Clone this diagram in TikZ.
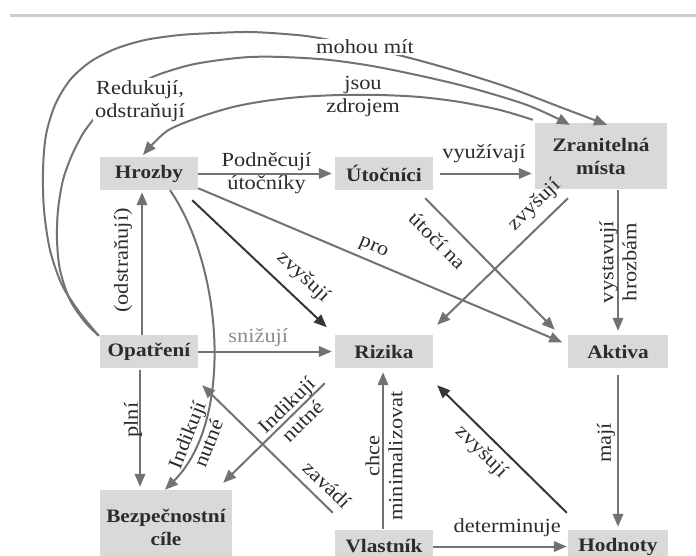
\documentclass[tikz,border=0pt]{standalone}
\usepackage{fontspec}
\setmainfont{Liberation Serif}[FakeStretch=1.12]
\usetikzlibrary{arrows.meta,calc}

\definecolor{boxfill}{HTML}{D9D9D9}
\definecolor{wire}{HTML}{727272}
\definecolor{wiredark}{HTML}{363636}
\definecolor{ink}{HTML}{2C2C2C}
\definecolor{softink}{HTML}{8C8C8C}
\definecolor{rulegray}{HTML}{CCCCCC}

\tikzset{
  box/.style={fill=boxfill, text=ink, font=\bfseries\fontsize{19}{23}\selectfont,
    align=center, minimum height=33pt, inner sep=0pt},
  link/.style={draw=wire, line width=2pt, -{Triangle[length=13pt,width=10.5pt]}},
  linkdark/.style={link, draw=wiredark},
  lbl/.style={text=ink, font=\fontsize{20}{23}\selectfont, inner sep=2pt, align=center},
  toprule/.style={draw=rulegray, line width=3pt}
}

\begin{document}
\begin{tikzpicture}[x=1pt,y=1pt]
\useasboundingbox (0,0) rectangle (696,-555);
\clip (0,0) rectangle (696,-555);

% header rule
\draw[toprule] (10,-15) -- (696,-15);

% concepts
\node[box, minimum width=98pt] (hroz) at (149,-173.5) {Hrozby};
\node[box, minimum width=98pt] (utoc) at (384,-173.5) {Útočníci};
\node[box, minimum width=132pt, minimum height=66pt] (zran) at (601,-156) {Zranitelná\\místa};
\node[box, minimum width=98pt] (opat) at (149,-351.5) {Opatření};
\node[box, minimum width=98pt] (riz) at (384,-351.5) {Rizika};
\node[box, minimum width=100pt] (akt) at (618,-351.5) {Aktiva};
\node[box, minimum width=132pt, minimum height=74pt] (bez) at (166,-527) {Bezpečnostní\\cíle};
\node[box, minimum width=98pt] (vlast) at (384,-546.5) {Vlastník};
\node[box, minimum width=100pt] (hodn) at (618,-546.5) {Hodnoty};

% helper end points
\coordinate (odstA) at ([xshift=-7pt]opat.north);
\coordinate (odstB) at ([xshift=-7pt]hroz.south);
\coordinate (plniA) at ([xshift=-9pt]opat.south);
\coordinate (plniB) at (plniA |- bez.north);
\coordinate (vystA) at (zran.south -| akt.north);
\coordinate (chceA) at ([xshift=-1pt]vlast.north);
\coordinate (chceB) at ([xshift=-1pt]riz.south);

% long arcs over the top
\draw[link] plot[smooth, tension=.5] coordinates {([shift={(-1pt,-1pt)}]opat.north west) (80,-313) (62,-285) (50,-250) (44,-210) (43,-170) (46,-135) (55,-105) (70,-80) (90,-62) (115,-49) (145,-40) (180,-35) (215,-33) (250,-32) (285,-34) (313,-37) (360,-46) (410,-58) (460,-72) (510,-88) (560,-107) ([shift={(6pt,-2pt)}]zran.north)};
\node[lbl, fill=white, inner ysep=1pt] (l-mohou) at (365,-47) {mohou mít};

\draw[link] plot[smooth, tension=.5] coordinates {([shift={(-1pt,-1pt)}]opat.north west) (85,-322) (70,-300) (60,-270) (57,-240) (58,-210) (63,-180) (72,-155) (84,-132) (100,-112) (120,-94) (140,-83) (160,-74) (190,-65) (220,-60) (250,-57) (283,-57) (330,-60) (383,-68) (460,-85) (527,-105) ([shift={(-31pt,-2pt)}]zran.north)};
\node[lbl, fill=white] (l-redu) at (140,-101) {Redukují,\\odstraňují};

\draw[link] plot[smooth, tension=.5] coordinates {([shift={(-2pt,3pt)}]zran.north west) (500,-110) (460,-102) (420,-97) (380,-95) (340,-95) (300,-97) (265,-101) (233,-107) (200,-117) (167,-131) ([shift={(-6pt,2pt)}]hroz.north)};
\node[lbl] (l-zdroj) at (363,-97) {jsou\\zdrojem};

% horizontal links
\draw[link, shorten >=3pt] (hroz.east) -- (utoc.west)
  node[lbl, midway] (l-podn) {Podněcují\\útočníky};
\draw[link, shorten <=7pt, shorten >=3pt] (utoc.east) -- (utoc.east -| zran.west)
  node[lbl, midway, yshift=20pt] (l-vyuz) {využívají};
\draw[link, shorten >=3pt] (opat.east) -- (riz.west)
  node[lbl, pos=.44, yshift=14pt, text=softink] (l-sniz) {snižují};
\draw[link, shorten >=1pt] (vlast.east) -- (hodn.west)
  node[lbl, pos=.55, yshift=18.5pt] (l-det) {determinuje};

% vertical links
\draw[link, shorten <=1pt, shorten >=4pt] (vystA) -- (akt.north);
\node[lbl, rotate=90] (l-vyst) at ($(vystA)!.5!(akt.north)$) {vystavují\\hrozbám};
\draw[link, shorten >=2pt] (odstA) -- (odstB);
\node[lbl, rotate=90] (l-odst) at ($(odstA)!.5!(odstB)+(-19,2)$) {(odstraňují)};
\draw[link, shorten <=2pt, shorten >=3pt] (plniA) -- (plniB);
\node[lbl, rotate=90] (l-plni) at ($(plniA)!.5!(plniB)+(-7,9)$) {plní};
\draw[link, shorten <=1pt, shorten >=4pt] (chceA) -- (chceB);
\node[lbl, rotate=90] (l-chce) at ($(chceA)!.5!(chceB)+(1,-7)$) {chce\\minimalizovat};
\draw[link, shorten <=7pt, shorten >=3pt] (akt.south) -- (hodn.north);
\node[lbl, rotate=90] (l-maji) at ($(akt.south)!.5!(hodn.north)+(-12,6)$) {mají};

% diagonal links
\draw[link, shorten >=6pt] ([yshift=2pt]hroz.south east) -- ([yshift=-10pt]akt.north west)
  node[lbl, pos=.46, sloped, above=3pt] (l-pro) {pro};
\draw[linkdark, shorten >=11pt] ([shift={(-6pt,-10pt)}]hroz.south east) -- (riz.north west)
  node[lbl, pos=.68, sloped, above=8pt] (l-zv1) {zvyšují};
\draw[link] ([shift={(-8pt,-8pt)}]utoc.south east) -- ([shift={(-13pt,5pt)}]akt.north west)
  node[lbl, pos=.21, sloped, below=11pt] (l-utoci) {útočí na};
\draw[link] ([shift={(-33pt,-9pt)}]zran.south) -- ([shift={(4pt,10pt)}]riz.north east)
  node[lbl, pos=.16, sloped, above=6pt] (l-zv2) {zvyšují};
\draw[link] ([xshift=21pt]hroz.south) .. controls (222,-265) and (235,-420) .. ([xshift=-1pt]bez.north)
  node[lbl, pos=.8, sloped] (l-ind1) {Indikují\\nutné};
\draw[link] ([shift={(-10pt,-15pt)}]riz.south west) -- ([shift={(-9pt,7pt)}]bez.north east)
  node[lbl, pos=.3, sloped] (l-ind2) {Indikují\\nutné};
\draw[link] ([shift={(-2pt,17pt)}]vlast.north west) -- ([shift={(4pt,-17pt)}]opat.south east)
  node[lbl, pos=.13, sloped, above=6pt] (l-zav) {zavádí};
\draw[linkdark] ([shift={(-1pt,17pt)}]hodn.north west) -- ([shift={(4pt,-17pt)}]riz.south east)
  node[lbl, pos=.57, sloped, below=5pt] (l-zv3) {zvyšují};
\end{tikzpicture}
\end{document}
